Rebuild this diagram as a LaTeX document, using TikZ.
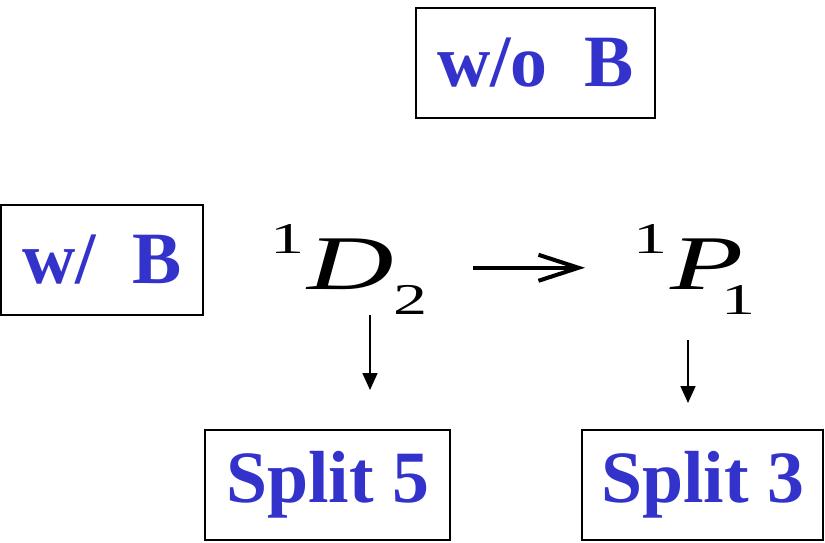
\documentclass[tikz,border=0pt]{standalone}
\usepackage{fontspec}
\setmainfont{Liberation Serif}
\usepackage{graphicx}
\usetikzlibrary{arrows.meta,positioning}
\definecolor{labelblue}{RGB}{51,51,204}
% term symbol: #1 letter, #2 subscript, #3 kern before subscript
\newcommand{\levelsym}[3]{\scalebox{1.55}[1]{\raisebox{20.5pt}{\fontsize{25}{25}\selectfont 1}\kern1pt{\fontsize{44}{44}\selectfont\itshape #1}\kern#3\raisebox{-14pt}{\fontsize{25}{25}\selectfont #2}}}

\begin{document}
\begin{tikzpicture}[
        x=0.02cm, y=-0.02cm,
        fieldbox/.style={rectangle, draw, line width=1.2pt, inner sep=0pt,
            minimum width=#1, minimum height=2.2cm,
            text=labelblue, font=\fontsize{42}{42}\selectfont\bfseries},
        level/.style={inner sep=0pt, anchor=base west},
        pathto/.style={-{Straight Barb[length=0.8cm,width=0.52cm]}, line width=2.3pt},
        drop/.style={-{Triangle[length=0.34cm,width=0.3cm]}, line width=1pt}
    ]
        \useasboundingbox (0,0) rectangle (825,543);
        \node[fieldbox=4.78cm] (wob) at (535.5,63) {w/o~~B};
        \node[fieldbox=4.04cm] (wb) at (102,260) {w/~~B};
        \node[fieldbox=4.9cm] (s5) at (327.5,485) {Split 5};
        \node[fieldbox=4.82cm] (s3) at (702.5,485) {Split 3};

        \node[level] (d2) at (270,290) {\levelsym{D}{2}{0pt}};
        \node[level] (p1) at (633,290) {\levelsym{P}{1}{-8pt}};

        \coordinate (d2tip) at (370,390);
        \coordinate (p1tip) at (688,403);

        \draw[pathto, shorten <=0.9cm, shorten >=0.96cm] ([yshift=0.04cm]d2.east) -- ([yshift=0.04cm]p1.west);
        \draw[drop] (d2tip |- d2.south) -- (d2tip);
        \draw[drop, shorten <=0.5cm] (p1tip |- p1.south) -- (p1tip);
    \end{tikzpicture}
\end{document}
